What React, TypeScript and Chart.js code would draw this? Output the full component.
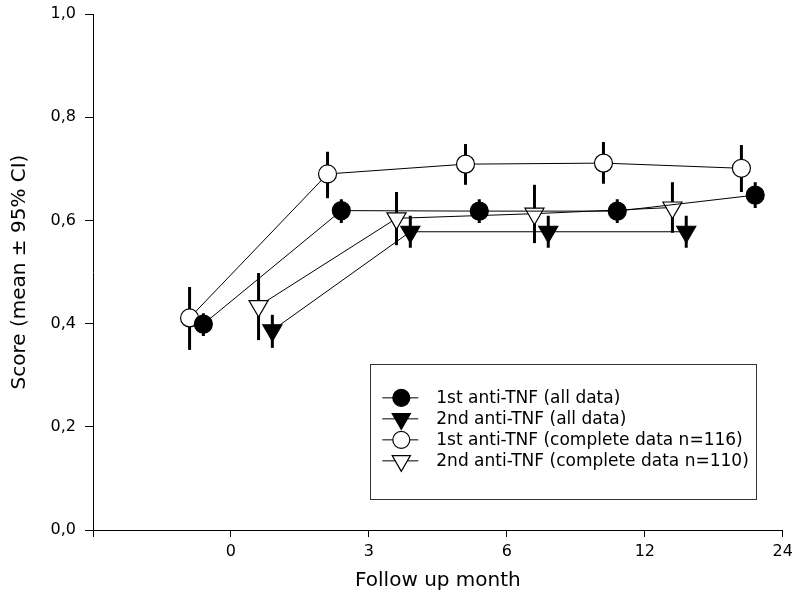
import { useEffect, useRef } from 'react';
import { Chart, registerables } from 'chart.js';

Chart.register(...registerables);

// x categories (follow-up months), drawn at equal spacing
const monthTicks = ['0', '3', '6', '12', '24'];
const months1 = ['0', '3', '6', '12', '24'];
const months2 = ['0', '3', '6', '12'];

// 1st anti-TNF (all data)
const firstAll = [0.399, 0.619, 0.618, 0.618, 0.649];
const firstAllLo = [0.376, 0.595, 0.595, 0.595, 0.624];
const firstAllHi = [0.42, 0.641, 0.641, 0.641, 0.674];

// 2nd anti-TNF (all data)
const secondAll = [0.387, 0.578, 0.578, 0.578];
const secondAllLo = [0.353, 0.547, 0.547, 0.547];
const secondAllHi = [0.417, 0.609, 0.609, 0.609];

// 1st anti-TNF (complete data n=116)
const firstComplete = [0.411, 0.69, 0.709, 0.711, 0.701];
const firstCompleteLo = [0.349, 0.643, 0.669, 0.671, 0.655];
const firstCompleteHi = [0.471, 0.733, 0.748, 0.752, 0.746];

// 2nd anti-TNF (complete data n=110)
const secondComplete = [0.434, 0.604, 0.613, 0.625];
const secondCompleteLo = [0.368, 0.552, 0.556, 0.576];
const secondCompleteHi = [0.498, 0.655, 0.669, 0.674];

const seriesLabels = [
  '1st anti-TNF (all data)',
  '2nd anti-TNF (all data)',
  '1st anti-TNF (complete data n=116)',
  '2nd anti-TNF (complete data n=110)',
];

// horizontal jitter of each series around its month category
const jitter = [-0.2, 0.3, -0.3, 0.2];

const FONT = '"DejaVu Sans", sans-serif';

function toPoints(months: string[], values: number[], shift: number) {
  return values.map((v, i) => ({ x: monthTicks.indexOf(months[i]) + shift, y: v }));
}

function drawMarker(ctx: CanvasRenderingContext2D, style: string, fill: string, x: number, y: number, r: number) {
  ctx.save();
  ctx.beginPath();
  if (style === 'circle') {
    ctx.arc(x, y, r, 0, Math.PI * 2);
  } else {
    ctx.moveTo(x, y + r);
    ctx.lineTo(x - r * Math.sin(Math.PI / 3), y - r / 2);
    ctx.lineTo(x + r * Math.sin(Math.PI / 3), y - r / 2);
    ctx.closePath();
  }
  ctx.fillStyle = fill;
  ctx.fill();
  ctx.lineWidth = 1.2;
  ctx.strokeStyle = '#000';
  ctx.stroke();
  ctx.restore();
}

const errorBars = {
  id: 'errorBars',
  beforeDatasetsDraw(chart: any) {
    const { ctx, scales } = chart;
    const xs = scales.x;
    const ys = scales.y;
    ctx.save();
    ctx.strokeStyle = '#000';
    ctx.lineWidth = 3;
    chart.data.datasets.forEach((ds: any) => {
      ds.data.forEach((p: any, i: number) => {
        const px = xs.getPixelForValue(p.x);
        ctx.beginPath();
        ctx.moveTo(px, ys.getPixelForValue(ds.errLo[i]));
        ctx.lineTo(px, ys.getPixelForValue(ds.errHi[i]));
        ctx.stroke();
      });
    });
    ctx.restore();
  },
};

const boxLegend = {
  id: 'boxLegend',
  afterDraw(chart: any) {
    const { ctx, chartArea } = chart;
    const w = chartArea.right - chartArea.left;
    const h = chartArea.bottom - chartArea.top;
    const bx = chartArea.left + 0.402 * w;
    const by = chartArea.top + 0.678 * h;
    const bw = 0.559 * w;
    const bh = 0.262 * h;
    ctx.save();
    ctx.strokeStyle = '#333';
    ctx.lineWidth = 1;
    ctx.strokeRect(Math.round(bx) + 0.5, Math.round(by) + 0.5, Math.round(bw), Math.round(bh));
    ctx.font = '17px ' + FONT;
    ctx.textBaseline = 'middle';
    ctx.fillStyle = '#000';
    chart.data.datasets.forEach((ds: any, i: number) => {
      const cy = by + 34 + i * 21;
      ctx.beginPath();
      ctx.strokeStyle = '#000';
      ctx.lineWidth = 1;
      ctx.moveTo(bx + 12, cy);
      ctx.lineTo(bx + 48, cy);
      ctx.stroke();
      drawMarker(ctx, ds.pointStyle, ds.pointBackgroundColor, bx + 31, cy, ds.pointStyle === 'circle' ? 8.5 : 10.5);
      ctx.fillStyle = '#000';
      ctx.fillText(ds.label, bx + 66, cy + 1);
    });
    ctx.restore();
  },
};

export default function App() {
  const ref = useRef<HTMLCanvasElement>(null);

  useEffect(() => {
    if (!ref.current) return;
    const mk = (i: number, months: string[], vals: number[], lo: number[], hi: number[], style: string, fill: string) => ({
      label: seriesLabels[i],
      data: toPoints(months, vals, jitter[i]),
      errLo: lo,
      errHi: hi,
      borderColor: '#000',
      borderWidth: 1,
      backgroundColor: fill,
      pointStyle: style,
      pointRotation: style === 'triangle' ? 180 : 0,
      pointRadius: style === 'circle' ? 9 : 11,
      pointHoverRadius: style === 'circle' ? 9 : 11,
      pointBackgroundColor: fill,
      pointBorderColor: '#000',
      pointBorderWidth: 1.2,
      tension: 0,
      fill: false,
    });
    const chart = new Chart(ref.current, {
      type: 'line',
      data: {
        datasets: [
          mk(0, months1, firstAll, firstAllLo, firstAllHi, 'circle', '#000'),
          mk(1, months2, secondAll, secondAllLo, secondAllHi, 'triangle', '#000'),
          mk(2, months1, firstComplete, firstCompleteLo, firstCompleteHi, 'circle', '#fff'),
          mk(3, months2, secondComplete, secondCompleteLo, secondCompleteHi, 'triangle', '#fff'),
        ] as any,
      },
      options: {
        animation: false,
        responsive: false,
        maintainAspectRatio: false,
        layout: { padding: { left: 0, right: 10, top: 14, bottom: 1 } },
        plugins: {
          legend: { display: false },
          tooltip: { enabled: false },
        },
        scales: {
          x: {
            type: 'linear',
            min: -1,
            max: 4,
            afterFit: (s: any) => { s.height = 63; s.paddingLeft = 0; s.paddingRight = 0; },
            ticks: {
              stepSize: 1,
              color: '#000',
              font: { family: FONT, size: 16 },
              padding: 5,
              maxRotation: 0,
              callback: (v: any) => (v >= 0 ? monthTicks[v] : ''),
            },
            grid: { display: true, drawOnChartArea: false, drawTicks: true, tickLength: 7, tickColor: '#000', tickWidth: 1 },
            border: { display: true, color: '#000', width: 1 },
            title: { display: true, text: 'Follow up month', color: '#000', font: { family: FONT, size: 20 }, padding: { top: 0, bottom: 0 } },
          },
          y: {
            min: 0,
            max: 1,
            afterFit: (s: any) => { s.width = 93; s.paddingTop = 0; s.paddingBottom = 0; },
            ticks: {
              stepSize: 0.2,
              color: '#000',
              font: { family: FONT, size: 16 },
              padding: 9,
              callback: (v: any) => Number(v).toFixed(1).replace('.', ','),
            },
            grid: { display: true, drawOnChartArea: false, drawTicks: true, tickLength: 8, tickColor: '#000', tickWidth: 1 },
            border: { display: true, color: '#000', width: 1 },
            title: { display: true, text: 'Score (mean ± 95% CI)', color: '#000', font: { family: FONT, size: 20 }, padding: { top: 8, bottom: 0 } },
          },
        },
      },
      plugins: [errorBars, boxLegend],
    });
    return () => chart.destroy();
  }, []);

  return (
    <div style={{ position: 'absolute', left: 0, top: 0, width: 795, height: 594, background: '#fff' }}>
      <canvas ref={ref} width={795} height={594} style={{ display: 'block' }} />
    </div>
  );
}
